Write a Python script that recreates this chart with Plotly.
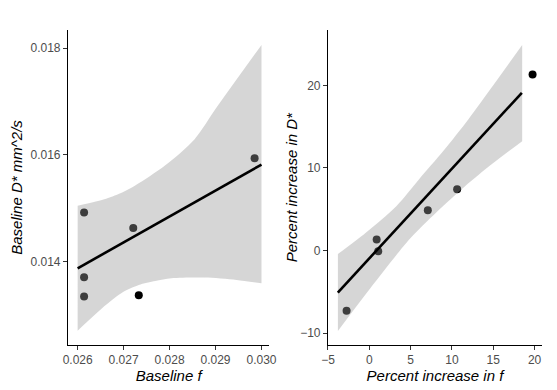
import plotly.graph_objects as go

# ---- Left panel data ----
base_f = [0.02614, 0.02614, 0.02614, 0.02721, 0.02985, 0.02733]
base_D = [0.01492, 0.01371, 0.01335, 0.01463, 0.01594, 0.01337]
base_fit_x = [0.0260, 0.0300]
base_fit_y = [0.013876, 0.015820]
base_up_x = [0.02600, 0.02662, 0.02698, 0.02726, 0.02790, 0.02854, 0.02904, 0.03000]
base_up_y = [0.01505, 0.01518, 0.01530, 0.01543, 0.01580, 0.01629, 0.01691, 0.01806]
base_lo_x = [0.02600, 0.02662, 0.02698, 0.02733, 0.02769, 0.02804, 0.02875, 0.02946, 0.03000]
base_lo_y = [0.012709, 0.013193, 0.013429, 0.013565, 0.013639, 0.013689, 0.013702, 0.013658, 0.013596]
base_xticks = [0.026, 0.027, 0.028, 0.029, 0.030]
base_yticks = [0.014, 0.016, 0.018]

# ---- Right panel data ----
pct_f = [-2.75, 0.89, 1.08, 7.08, 10.63, 19.76]
pct_D = [-7.29, 1.32, -0.08, 4.88, 7.42, 21.30]
pct_fit_x = [-3.81, 18.46]
pct_fit_y = [-5.09, 19.10]
pct_up_x = [-3.8, -0.5, 3.3, 6.0, 9.0, 12.0, 15.0, 18.5]
pct_up_y = [-0.42, 2.1, 5.4, 8.6, 12.1, 15.9, 20.0, 24.87]
pct_lo_x = [-3.8, 0.1, 4.8, 7.0, 10.7, 14.0, 18.5]
pct_lo_y = [-9.74, -4.6, 1.3, 3.55, 7.0, 9.8, 13.24]
pct_xticks = [-5, 0, 5, 10, 15, 20]
pct_yticks = [-10, 0, 10, 20]

BAND = "rgba(153,153,153,0.4)"
FONT = "Liberation Sans, Arial, sans-serif"

fig = go.Figure()

def panel(xa, ya, px, py, fx, fy, ux, uy, lx, ly):
    fig.add_trace(go.Scatter(x=px, y=py, mode="markers", xaxis=xa, yaxis=ya,
                             marker=dict(color="black", size=8, line=dict(width=0)),
                             showlegend=False, hoverinfo="skip"))
    fig.add_trace(go.Scatter(x=lx, y=ly, mode="lines", xaxis=xa, yaxis=ya,
                             line=dict(width=0, shape="spline", smoothing=0.8),
                             showlegend=False, hoverinfo="skip"))
    fig.add_trace(go.Scatter(x=ux, y=uy, mode="lines", xaxis=xa, yaxis=ya,
                             line=dict(width=0, shape="spline", smoothing=0.8),
                             fill="tonexty", fillcolor=BAND,
                             showlegend=False, hoverinfo="skip"))
    fig.add_trace(go.Scatter(x=fx, y=fy, mode="lines", xaxis=xa, yaxis=ya,
                             line=dict(color="black", width=2.6),
                             showlegend=False, hoverinfo="skip"))

panel("x", "y", base_f, base_D, base_fit_x, base_fit_y, base_up_x, base_up_y, base_lo_x, base_lo_y)
panel("x2", "y2", pct_f, pct_D, pct_fit_x, pct_fit_y, pct_up_x, pct_up_y, pct_lo_x, pct_lo_y)

ax_common = dict(showgrid=False, zeroline=False, showline=True, linecolor="black", linewidth=1.1,
                 ticks="outside", ticklen=4, tickwidth=1.1, tickcolor="#333333",
                 tickfont=dict(family=FONT, size=12, color="#4d4d4d"), mirror=False)
title_font = dict(family=FONT, size=15, color="black")

fig.update_layout(
    width=549, height=382,
    margin=dict(l=56, r=8, t=22, b=43),
    paper_bgcolor="white", plot_bgcolor="white",
    xaxis=dict(domain=[0, 0.4247], range=[0.02579, 0.03017], tickvals=base_xticks,
               tickformat=".3f", anchor="y",
               title=dict(text="<i>Baseline f</i>", font=title_font, standoff=4), **ax_common),
    yaxis=dict(domain=[0, 1], range=[0.01244, 0.01834], tickvals=base_yticks,
               tickformat=".3f", anchor="x",
               title=dict(text="<i>Baseline D* mm^2/s</i>", font=title_font, standoff=4), **ax_common),
    xaxis2=dict(domain=[0.5485, 1], range=[-5.0, 20.9], tickvals=pct_xticks, anchor="y2",
                title=dict(text="<i>Percent increase in f</i>", font=title_font, standoff=4), **ax_common),
    yaxis2=dict(domain=[0, 1], range=[-11.44, 26.7], tickvals=pct_yticks, anchor="x2", **ax_common),
    annotations=[dict(text="<i>Percent increase in D*</i>", font=title_font, textangle=-90,
                      xref="paper", yref="paper", x=0.4722, y=0.5,
                      xanchor="center", yanchor="middle", showarrow=False)],
)

fig.write_html("out.html")
